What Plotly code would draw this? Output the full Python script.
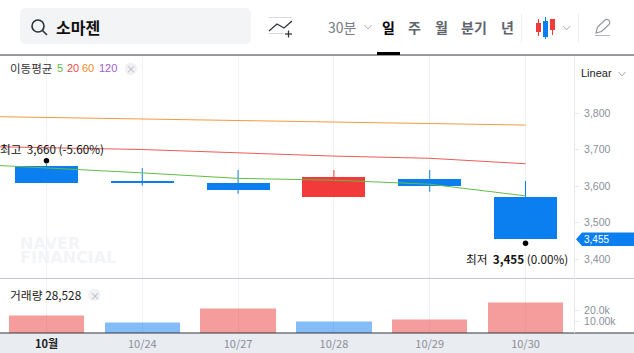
import plotly.graph_objects as go

W, H = 634, 353
dates = ["10월", "10/24", "10/27", "10/28", "10/29", "10/30"]
opens = [3655, 3614, 3608, 3571, 3619, 3570]
highs = [3660, 3649, 3644, 3644, 3644, 3614]
lows = [3608, 3601, 3579, 3571, 3584, 3455]
closes = [3608, 3608, 3589, 3625, 3601, 3455]
volumes = [15900, 9100, 22700, 10100, 12000, 28528]
vol_up = [True, False, True, False, True, True]
ma_x = [-1, 0, 1, 2, 3, 4, 5]
ma5 = [3663, 3650, 3636, 3621, 3616, 3605, 3573]
ma20 = [3710, 3705, 3700, 3691, 3682, 3676, 3661]
ma60 = [3792, 3788, 3784, 3779, 3776, 3773, 3767]
price_ticks = [3400, 3500, 3600, 3700, 3800]
vol_ticks = [10000, 20000]
vol_tick_text = ["10.00k", "20.0k"]

BLUE, RED = "#0b7ff0", "#f23a3a"
GRID = "#eef1f6"
TICK = "#8a8f99"
KR = "Noto Sans CJK KR, Noto Sans, sans-serif"
LAT = "Liberation Sans, sans-serif"


def px(x):
    return x / W


def py(y):
    return 1 - y / H


xs = list(range(len(dates)))
fig = go.Figure()

# candle bodies and wicks
colors = [RED if c > o else BLUE for o, c in zip(opens, closes)]
fig.add_trace(go.Bar(x=xs, base=[min(o, c) for o, c in zip(opens, closes)],
                     y=[abs(o - c) for o, c in zip(opens, closes)],
                     width=0.658, marker=dict(color=colors, line_width=0),
                     xaxis="x", yaxis="y", showlegend=False))
for col in (BLUE, RED):
    wx, wy = [], []
    for i in xs:
        if colors[i] == col:
            wx += [i, i, None]
            wy += [lows[i], highs[i], None]
    fig.add_trace(go.Scatter(x=wx, y=wy, mode="lines", line=dict(color=col, width=1),
                             xaxis="x", yaxis="y", showlegend=False))

# moving averages
for vals, col in ((ma60, "#f59a3e"), (ma20, "#ec5a5a"), (ma5, "#62bd45")):
    fig.add_trace(go.Scatter(x=ma_x, y=vals, mode="lines", line=dict(color=col, width=1),
                             xaxis="x", yaxis="y", showlegend=False))

# high / low markers
hi_i = highs.index(max(highs))
lo_i = lows.index(min(lows))
fig.add_trace(go.Scatter(x=[hi_i, lo_i], y=[highs[hi_i] + 9, lows[lo_i] - 12], mode="markers",
                         marker=dict(color="#000", size=5.5), xaxis="x", yaxis="y", showlegend=False))

# volume
VB = -1553
vcol = ["rgba(236,57,57,0.5)" if u else "rgba(9,121,239,0.5)" for u in vol_up]
vcap = ["rgba(236,57,57,0.25)" if u else "rgba(9,121,239,0.25)" for u in vol_up]
fig.add_trace(go.Bar(x=xs, base=VB, y=[v - VB - 900 for v in volumes], width=0.788,
                     marker=dict(color=vcol, line_width=0), xaxis="x2", yaxis="y2", showlegend=False))
fig.add_trace(go.Bar(x=xs, base=[v - 900 for v in volumes], y=[900] * len(xs), width=0.788,
                     marker=dict(color=vcap, line_width=0), xaxis="x2", yaxis="y2", showlegend=False))

x_range = [-0.485, 5.506]
dom_x = [0, 574 / W]
ticktext = ['<span style="color:#222222"><b>10월</b></span>'] + dates[1:]


def chevron(cx, cy):
    return dict(type="path", xref="paper", yref="paper", line=dict(color="#a8acb2", width=1),
                path=f"M {px(cx - 3.5)} {py(cy - 2)} L {px(cx)} {py(cy + 2)} L {px(cx + 3.5)} {py(cy - 2)}")


shapes = [
    dict(type="rect", xref="paper", yref="paper", x0=0, x1=1, y0=0, y1=py(333), fillcolor="#e9ecf1",
         line_width=0, layer="below"),
    dict(type="rect", xref="paper", yref="paper", x0=0, x1=px(143.5), y0=py(76), y1=py(56), fillcolor="#ffffff",
         line_width=0, layer="between"),
    dict(type="path", xref="paper", yref="paper", fillcolor="#f3f4f6", line_width=0, layer="below",
         path=(f"M {px(26)} {py(8)} L {px(245)} {py(8)} Q {px(251)} {py(8)} {px(251)} {py(14)} "
               f"L {px(251)} {py(38)} Q {px(251)} {py(44)} {px(245)} {py(44)} L {px(26)} {py(44)} "
               f"Q {px(20)} {py(44)} {px(20)} {py(38)} L {px(20)} {py(14)} Q {px(20)} {py(8)} {px(26)} {py(8)} Z")),
    # magnifier
    dict(type="circle", xref="paper", yref="paper", x0=px(32), x1=px(44), y0=py(32), y1=py(20),
         line=dict(color="#2b2f36", width=1.6)),
    dict(type="line", xref="paper", yref="paper", x0=px(42.5), x1=px(47), y0=py(30.5), y1=py(35),
         line=dict(color="#2b2f36", width=1.6)),
    # indicator icon
    dict(type="line", xref="paper", yref="paper", x0=px(269), x1=px(292), y0=py(17.5), y1=py(17.5),
         line=dict(color="#d6d8dc", width=1)),
    dict(type="line", xref="paper", yref="paper", x0=px(269), x1=px(284), y0=py(33.5), y1=py(33.5),
         line=dict(color="#d6d8dc", width=1)),
    dict(type="path", xref="paper", yref="paper", line=dict(color="#33373d", width=1.3),
         path=f"M {px(269)} {py(31)} L {px(277)} {py(24)} L {px(284)} {py(28)} L {px(292)} {py(21)}"),
    dict(type="line", xref="paper", yref="paper", x0=px(285), x1=px(292), y0=py(34), y1=py(34),
         line=dict(color="#33373d", width=1.3)),
    dict(type="line", xref="paper", yref="paper", x0=px(288.5), x1=px(288.5), y0=py(30.5), y1=py(37.5),
         line=dict(color="#33373d", width=1.3)),
    # separators
    dict(type="line", xref="paper", yref="paper", x0=0, x1=1, y0=py(55), y1=py(55), line=dict(color="#33373d", width=1)),
    dict(type="rect", xref="paper", yref="paper", x0=px(377), x1=px(400), y0=py(55), y1=py(52), fillcolor="#000",
         line_width=0),
    dict(type="line", xref="paper", yref="paper", x0=0, x1=1, y0=py(278.5), y1=py(278.5),
         line=dict(color="#c2c8ce", width=1)),
    dict(type="line", xref="paper", yref="paper", x0=0, x1=1, y0=py(333), y1=py(333), line=dict(color="#33373d", width=1)),
    dict(type="line", xref="paper", yref="paper", x0=px(574.5), x1=px(574.5), y0=py(56), y1=py(333),
         line=dict(color="#e6e8ec", width=1)),
    # header dividers
    dict(type="line", xref="paper", yref="paper", x0=px(521.5), x1=px(521.5), y0=py(14), y1=py(42),
         line=dict(color="#eceef1", width=1)),
    dict(type="line", xref="paper", yref="paper", x0=px(578.5), x1=px(578.5), y0=py(14), y1=py(42),
         line=dict(color="#eceef1", width=1)),
    # candle icon
    dict(type="line", xref="paper", yref="paper", x0=px(538.5), x1=px(538.5), y0=py(19), y1=py(36), line=dict(color=RED, width=1)),
    dict(type="rect", xref="paper", yref="paper", x0=px(536), x1=px(541), y0=py(23), y1=py(32), fillcolor=RED, line_width=0),
    dict(type="line", xref="paper", yref="paper", x0=px(545.5), x1=px(545.5), y0=py(17), y1=py(39), line=dict(color=BLUE, width=1)),
    dict(type="rect", xref="paper", yref="paper", x0=px(543), x1=px(548), y0=py(21), y1=py(37), fillcolor=BLUE, line_width=0),
    dict(type="line", xref="paper", yref="paper", x0=px(552.5), x1=px(552.5), y0=py(19), y1=py(35), line=dict(color=RED, width=1)),
    dict(type="rect", xref="paper", yref="paper", x0=px(550), x1=px(555), y0=py(19), y1=py(30), fillcolor=RED, line_width=0),
    chevron(368, 27), chevron(566.5, 28), chevron(622, 74),
    # pencil icon
    dict(type="path", xref="paper", yref="paper", line=dict(color="#8f939a", width=1.1),
         path=(f"M {px(596)} {py(33)} L {px(597.5)} {py(27)} L {px(605)} {py(20)} Q {px(607.5)} {py(18.5)} {px(609.5)} {py(21)} "
               f"Q {px(610.5)} {py(23)} {px(609)} {py(24.5)} L {px(601.5)} {py(31.5)} Z")),
    dict(type="line", xref="paper", yref="paper", x0=px(595), x1=px(610), y0=py(35.5), y1=py(35.5),
         line=dict(color="#b4b8be", width=1)),
    # price tag
    dict(type="path", xref="paper", yref="paper", fillcolor=BLUE, line_width=0,
         path=(f"M {px(576)} {py(239.3)} L {px(582)} {py(232.5)} L {px(634)} {py(232.5)} L {px(634)} {py(246)} "
               f"L {px(582)} {py(246)} Z")),
    # legend close buttons
    dict(type="circle", xref="paper", yref="paper", x0=px(124.5), x1=px(137), y0=py(75), y1=py(62.5), fillcolor="#f0f1f3", line_width=0),
    dict(type="circle", xref="paper", yref="paper", x0=px(88), x1=px(100.5), y0=py(301), y1=py(288.5), fillcolor="#f0f1f3", line_width=0),
]


def text(x, y, s, size=12, color="#222", anchor="left", font=KR, **kw):
    off = 2 if anchor == "left" else 0
    return dict(xref="paper", yref="paper", x=px(x - off), y=py(y), text=s, showarrow=False, xanchor=anchor,
                yanchor="middle", font=dict(size=size, color=color, family=font), **kw)


annotations = [
    text(56, 27, "<b>소마젠</b>", 16, "#111"),
    text(328, 27, "30분", 14, "#777c85"),
    text(382, 27, "<b>일</b>", 14, "#000"),
    text(408, 27, "<b>주</b>", 14, "#5f646c"),
    text(435, 27, "<b>월</b>", 14, "#5f646c"),
    text(461, 27, "<b>분기</b>", 14, "#5f646c"),
    text(501, 27, "<b>년</b>", 14, "#5f646c"),
    text(581, 73, "Linear", 11, "#222", font=LAT),
    text(10, 68, "이동평균", 11.5, "#333"),
    text(56.5, 68, "5", 11, "#62bd45", font=LAT),
    text(66.5, 68, "20", 11, "#ec4a4a", font=LAT),
    text(82.5, 68, "60", 11, "#f58a1f", font=LAT),
    text(98.5, 68, "120", 11, "#a05bd0", font=LAT),
    text(131, 68.5, "×", 10, "#b5b8bd", "center"),
    text(10, 294.5, "거래량 28,528", 11.8, "#222"),
    text(94.5, 295, "×", 10, "#b5b8bd", "center"),
    text(20, 243.5, "<b>NAVER</b>", 16, "#f3f4f7", font="DejaVu Sans, sans-serif"),
    text(20, 257.5, "<b>FINANCIAL</b>", 16, "#f3f4f7", font="DejaVu Sans, sans-serif"),
    text(0, 148.5, f"최고  {highs[hi_i]:,} (-5.60%)", 11.7, "#111"),
    text(466, 258, f"최저  <b>{lows[lo_i]:,}</b> (0.00%)", 11.7, "#111"),
    text(584, 239, f"{closes[-1]:,}", 10, "#ffffff", font=LAT),
]

fig.update_layout(
    width=W, height=H, margin=dict(l=0, r=0, t=0, b=0), paper_bgcolor="#fff", plot_bgcolor="rgba(0,0,0,0)",
    barmode="overlay", bargap=0, showlegend=False, shapes=shapes, annotations=annotations,
    font=dict(family=KR),
    xaxis=dict(domain=dom_x, range=x_range, anchor="y", tickvals=xs, showticklabels=False, ticks="",
               showgrid=True, gridcolor=GRID, gridwidth=1, zeroline=False, showline=False),
    yaxis=dict(domain=[py(278), py(55)], range=[3348, 3959], side="right", anchor="x", tickvals=price_ticks,
               tickformat=",d", ticks="outside", ticklen=4, tickcolor="#e6e8ec", showgrid=False, zeroline=False,
               tickfont=dict(size=10.5, color=TICK, family=LAT), ticklabelstandoff=3),
    xaxis2=dict(domain=dom_x, range=x_range, anchor="y2", tickvals=xs, ticktext=ticktext, ticks="",
                showgrid=True, gridcolor=GRID, gridwidth=1, zeroline=False, showline=False, ticklabelstandoff=3,
                tickfont=dict(size=11, color=TICK, family=KR)),
    yaxis2=dict(domain=[py(333), py(278)], range=[VB, 51800], side="right", anchor="x2", tickvals=vol_ticks,
                ticktext=vol_tick_text, ticks="outside", ticklen=4, tickcolor="#e6e8ec", showgrid=False, zeroline=False,
                tickfont=dict(size=10.5, color=TICK, family=LAT), ticklabelstandoff=3),
)

fig.write_html("out.html", config={"displayModeBar": False},
               post_script="document.body.style.margin='0';document.body.style.overflow='hidden';")
